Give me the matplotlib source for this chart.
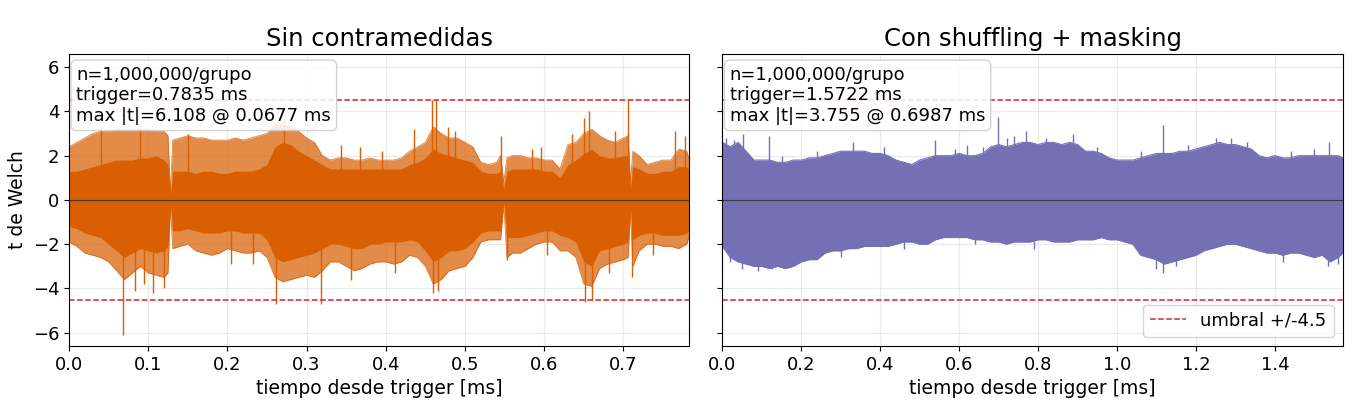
import matplotlib.pyplot as plt
import numpy as np

# --- panel izquierdo: sin contramedidas (envolventes) ---
t_sin = [0.00, 0.01, 0.02, 0.03, 0.04, 0.05, 0.06, 0.07, 0.08, 0.09,
         0.10, 0.11, 0.12, 0.125, 0.128, 0.131, 0.14, 0.15, 0.16, 0.17,
         0.18, 0.19, 0.20, 0.21, 0.22, 0.23, 0.24, 0.25, 0.26, 0.27,
         0.28, 0.29, 0.30, 0.31, 0.32, 0.33, 0.34, 0.35, 0.36, 0.37,
         0.38, 0.39, 0.40, 0.41, 0.42, 0.43, 0.44, 0.45, 0.46, 0.47,
         0.48, 0.49, 0.50, 0.51, 0.52, 0.53, 0.54, 0.545, 0.549, 0.553,
         0.56, 0.57, 0.58, 0.59, 0.60, 0.61, 0.62, 0.63, 0.64, 0.65,
         0.66, 0.67, 0.68, 0.69, 0.70, 0.706, 0.709, 0.712, 0.72, 0.73,
         0.74, 0.75, 0.76, 0.77, 0.78, 0.7835]
sup_sin = [2.4, 2.6, 2.8, 3.0, 3.1, 3.1, 3.2, 3.2, 3.2, 3.2,
           3.2, 3.1, 3.1, 2.9, 0.3, 2.7, 2.8, 2.9, 2.8, 2.8,
           2.7, 2.7, 2.7, 2.8, 2.7, 2.8, 2.9, 3.0, 3.4, 3.4,
           3.3, 3.1, 2.8, 2.6, 2.0, 1.8, 1.9, 1.9, 1.8, 1.8,
           1.9, 1.8, 1.8, 1.8, 1.9, 2.2, 2.4, 2.6, 3.3, 3.0,
           2.8, 2.8, 2.6, 2.4, 1.7, 1.6, 1.7, 2.0, 0.8, 1.9,
           2.0, 2.0, 1.9, 1.9, 1.8, 1.8, 1.4, 2.5, 2.6, 3.0,
           3.2, 2.9, 2.7, 2.6, 2.8, 2.9, 0.8, 2.2, 2.0, 1.6,
           1.7, 1.8, 1.8, 2.3, 2.2, 1.8]
inf_sin = [-1.9, -2.1, -2.4, -2.5, -2.6, -2.8, -3.2, -3.6, -3.3, -3.0,
           -3.3, -3.4, -3.5, -3.3, -0.3, -2.2, -2.1, -2.0, -2.3, -2.4,
           -2.5, -2.4, -2.2, -2.3, -2.4, -2.4, -2.3, -2.6, -3.5, -3.7,
           -3.6, -3.5, -3.4, -3.5, -3.2, -2.8, -2.8, -3.0, -3.2, -3.1,
           -2.9, -2.8, -2.8, -2.9, -2.8, -2.5, -2.6, -3.0, -3.8, -3.6,
           -3.2, -3.1, -3.0, -2.6, -1.9, -1.8, -1.8, -1.8, -0.2, -2.6,
           -2.4, -2.4, -2.2, -2.0, -1.9, -1.9, -2.3, -2.3, -2.6, -3.8,
           -3.9, -3.1, -2.9, -2.8, -2.7, -2.6, -0.5, -3.0, -2.3, -2.0,
           -2.0, -2.1, -2.1, -2.2, -2.0, -1.6]
# cuerpo denso (parte opaca)
sup_sin_nucleo = [1.3, 1.3, 1.4, 1.5, 1.6, 1.7, 1.8, 1.8, 1.8, 1.9,
                  1.9, 2.0, 1.8, 1.6, 0.2, 1.3, 1.3, 1.3, 1.2, 1.3,
                  1.3, 1.2, 1.2, 1.3, 1.3, 1.3, 1.4, 1.6, 2.4, 2.6,
                  2.5, 2.2, 2.0, 1.8, 1.6, 1.4, 1.4, 1.4, 1.4, 1.4,
                  1.4, 1.4, 1.4, 1.4, 1.4, 1.6, 1.7, 1.9, 2.3, 2.1,
                  2.0, 1.9, 1.8, 1.7, 1.3, 1.2, 1.2, 1.3, 0.5, 1.3,
                  1.4, 1.4, 1.4, 1.4, 1.3, 1.3, 1.0, 1.6, 1.8, 2.1,
                  2.3, 2.0, 1.9, 1.9, 2.0, 2.0, 0.5, 1.5, 1.4, 1.2,
                  1.2, 1.3, 1.3, 1.5, 1.5, 1.3]
inf_sin_nucleo = [-1.2, -1.3, -1.5, -1.6, -1.7, -2.0, -2.3, -2.6, -2.4, -2.2,
                  -2.3, -2.4, -2.3, -2.1, -0.2, -1.4, -1.4, -1.3, -1.4, -1.5,
                  -1.5, -1.5, -1.4, -1.4, -1.5, -1.5, -1.5, -1.8, -2.6, -2.8,
                  -2.7, -2.6, -2.5, -2.4, -2.2, -2.0, -2.0, -2.1, -2.2, -2.2,
                  -2.0, -2.0, -1.9, -1.9, -1.9, -1.8, -1.9, -2.3, -2.8, -2.6,
                  -2.3, -2.3, -2.2, -1.9, -1.5, -1.4, -1.4, -1.4, -0.1, -1.7,
                  -1.7, -1.7, -1.6, -1.5, -1.4, -1.4, -1.6, -1.7, -1.9, -2.8,
                  -3.0, -2.3, -2.2, -2.1, -2.0, -1.9, -0.3, -1.8, -1.6, -1.5,
                  -1.5, -1.6, -1.6, -1.6, -1.5, -1.3]
picos_sin_t = [0.0677, 0.106, 0.120, 0.262, 0.272, 0.318, 0.436, 0.458, 0.463,
               0.460, 0.466, 0.546, 0.553, 0.650, 0.657, 0.651, 0.660, 0.706,
               0.711, 0.765, 0.778, 0.040, 0.090, 0.150,
               0.343, 0.368, 0.395, 0.478, 0.488, 0.585, 0.596, 0.635, 0.690,
               0.083, 0.095, 0.204, 0.232, 0.356, 0.412, 0.603, 0.682, 0.738]
picos_sin_v = [-6.108, -4.2, -4.0, -4.7, 3.6, -4.7, 3.2, 4.5, 4.55,
               -4.2, -4.1, 2.9, -2.7, 3.7, 4.0, -4.6, -4.5, 4.55,
               -3.5, 3.1, 2.9, 3.3, 3.4, 3.0,
               2.5, 2.4, 2.2, 3.3, 3.1, 2.3, 2.4, 3.0, 3.1,
               -4.1, -3.8, -2.9, -2.9, -3.6, -3.3, -2.5, -3.3, -2.5]

# --- panel derecho: con shuffling + masking ---
t_con = [0.00, 0.02, 0.04, 0.06, 0.08, 0.10, 0.12, 0.14, 0.16, 0.18,
         0.20, 0.22, 0.24, 0.26, 0.28, 0.30, 0.32, 0.34, 0.36, 0.38,
         0.40, 0.42, 0.44, 0.46, 0.48, 0.50, 0.52, 0.54, 0.56, 0.58,
         0.60, 0.62, 0.64, 0.66, 0.68, 0.70, 0.72, 0.74, 0.76, 0.78,
         0.80, 0.82, 0.84, 0.86, 0.88, 0.90, 0.92, 0.94, 0.96, 0.98,
         1.00, 1.02, 1.04, 1.06, 1.08, 1.10, 1.12, 1.14, 1.16, 1.18,
         1.20, 1.22, 1.24, 1.26, 1.28, 1.30, 1.32, 1.34, 1.36, 1.38,
         1.40, 1.42, 1.44, 1.46, 1.48, 1.50, 1.52, 1.54, 1.56, 1.5722]
sup_con = [2.6, 2.4, 2.6, 2.2, 1.8, 1.8, 1.8, 1.7, 1.7, 1.8,
           1.8, 1.9, 1.9, 2.0, 2.1, 2.2, 2.2, 2.2, 2.2, 2.1,
           2.1, 2.0, 1.8, 1.7, 1.6, 1.8, 1.9, 2.0, 2.0, 2.0,
           2.1, 2.0, 2.0, 2.1, 2.4, 2.5, 2.4, 2.5, 2.6, 2.6,
           2.5, 2.6, 2.6, 2.5, 2.6, 2.5, 2.2, 2.2, 2.1, 1.9,
           1.8, 1.8, 1.8, 1.9, 2.0, 2.1, 2.1, 2.1, 2.2, 2.2,
           2.3, 2.4, 2.5, 2.6, 2.5, 2.5, 2.4, 2.3, 2.0, 1.9,
           2.0, 1.9, 1.9, 2.0, 2.0, 2.0, 2.0, 2.0, 2.0, 1.9]
inf_con = [-2.1, -2.6, -2.8, -2.9, -3.0, -3.0, -3.1, -3.0, -3.1, -3.0,
           -2.8, -2.7, -2.7, -2.4, -2.3, -2.3, -2.2, -2.2, -2.1, -2.1,
           -2.1, -2.1, -2.0, -1.9, -1.9, -2.0, -2.0, -1.8, -1.7, -1.7,
           -1.7, -1.7, -1.8, -1.8, -1.9, -1.9, -2.0, -1.9, -1.9, -1.9,
           -1.8, -1.8, -1.9, -1.9, -1.9, -1.8, -1.8, -1.8, -1.7, -1.8,
           -1.8, -1.9, -2.0, -2.5, -2.6, -2.7, -2.9, -2.8, -2.7, -2.6,
           -2.5, -2.3, -2.2, -2.1, -2.0, -2.0, -2.1, -2.2, -2.3, -2.4,
           -2.4, -2.5, -2.4, -2.4, -2.5, -2.6, -2.5, -2.8, -2.6, -2.4]
picos_con_t = [0.052, 0.117, 0.538, 0.6987, 0.770, 0.888, 1.116, 1.116, 1.537,
               1.535, 0.050, 0.620, 1.290, 0.330,
               0.010, 0.030, 0.150, 0.240, 0.410, 0.590, 0.660, 0.720, 0.740,
               0.820, 0.950, 1.060, 1.180, 1.250, 1.330, 1.440, 1.500,
               0.020, 0.090, 0.125, 0.300, 0.460, 0.640, 0.790, 1.100, 1.150,
               1.420, 1.560]
picos_con_v = [3.0, 2.9, 2.7, 3.755, 3.1, 3.0, 3.4, -3.3, 2.6,
               -3.0, -3.1, 2.5, 2.8, 2.6,
               2.8, 2.7, 2.0, 2.2, 2.4, 2.3, 2.4, 2.8, 2.9,
               2.8, 2.4, 2.2, 2.5, 2.8, 2.6, 2.2, 2.3,
               -2.8, -3.2, -3.1, -2.6, -2.2, -2.0, -2.2, -3.1, -3.0,
               -2.8, -2.9]

umbral = 4.5
naranja = '#d95f02'
morado = '#7570b3'

fig, (ax1, ax2) = plt.subplots(1, 2, figsize=(13.53, 4.08), dpi=100, sharey=True)
fig.subplots_adjust(left=0.051, right=0.9925, bottom=0.152, top=0.868, wspace=0.053)

# izquierda
ax1.fill_between(t_sin, inf_sin, sup_sin, color=naranja, alpha=0.72, lw=0)
ax1.fill_between(t_sin, inf_sin_nucleo, sup_sin_nucleo, color=naranja, lw=0)
ax1.plot(t_sin, sup_sin, color=naranja, lw=0.6, alpha=0.8)
ax1.plot(t_sin, inf_sin, color=naranja, lw=0.6, alpha=0.8)
ax1.vlines(picos_sin_t, 0, picos_sin_v, color=naranja, lw=1.0)

# derecha
ax2.fill_between(t_con, inf_con, sup_con, color=morado, lw=0)
ax2.plot(t_con, sup_con, color=morado, lw=0.8)
ax2.plot(t_con, inf_con, color=morado, lw=0.8)
ax2.vlines(picos_con_t, 0, picos_con_v, color=morado, lw=1.0)

info = [
    ("Sin contramedidas", 0.7835, "n=1,000,000/grupo\ntrigger=0.7835 ms\nmax |t|=6.108 @ 0.0677 ms"),
    ("Con shuffling + masking", 1.5722, "n=1,000,000/grupo\ntrigger=1.5722 ms\nmax |t|=3.755 @ 0.6987 ms"),
]

for ax, (titulo, tmax, texto) in zip((ax1, ax2), info):
    ax.axhline(umbral, color='#d62728', ls='--', lw=1.1, label='umbral +/-4.5')
    ax.axhline(-umbral, color='#d62728', ls='--', lw=1.1)
    ax.axhline(0, color='#333333', lw=0.8, alpha=0.9)
    ax.set_xlim(0, tmax)
    ax.set_ylim(-6.6, 6.6)
    ax.set_yticks([-6, -4, -2, 0, 2, 4, 6])
    ax.grid(True, color='#dddddd', alpha=0.6, lw=0.8)
    ax.set_axisbelow(True)
    ax.set_title(titulo, fontsize=17.5)
    ax.set_xlabel("tiempo desde trigger [ms]", fontsize=13.5)
    ax.tick_params(labelsize=13)
    ax.text(0.012, 0.96, texto, transform=ax.transAxes, fontsize=13, va='top', ha='left',
            bbox=dict(boxstyle='round,pad=0.3', facecolor='white', edgecolor='#cccccc', alpha=0.85))

ax2.set_xticks(np.arange(0, 1.5, 0.2))
ax1.set_ylabel("t de Welch", fontsize=13.5)
ax2.legend(loc='lower right', fontsize=13)

fig.savefig('out.png', dpi=100)
